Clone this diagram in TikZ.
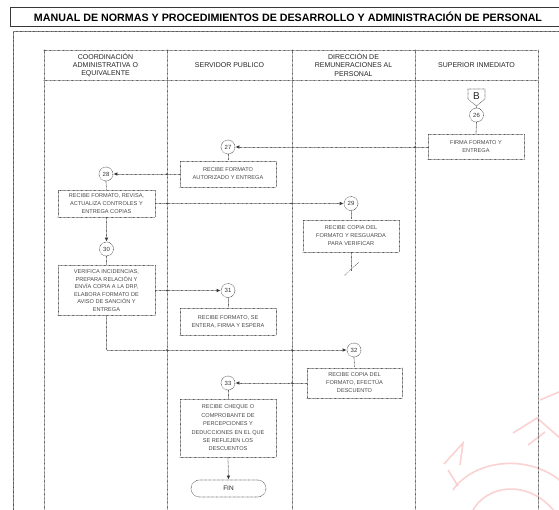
\documentclass[tikz,border=0pt]{standalone}
\usepackage{fontspec}
\setmainfont{Liberation Sans}
\usetikzlibrary{arrows.meta}
\definecolor{ink}{gray}{0.22}
\definecolor{wm}{rgb}{0.98,0.78,0.78}
\begin{document}
\begin{tikzpicture}[x=1pt,y=-1pt,
  dl/.style={draw=ink, line width=0.75pt, line cap=round, dash pattern=on 0.05pt off 1.25pt},
  box/.style={dl, rectangle, inner sep=1pt, align=center, text=black!72,
    font=\fontsize{5.6}{8}\selectfont},
  circ/.style={dl, circle, minimum size=14pt, inner sep=0pt, text=black!80,
    font=\fontsize{6}{6}\selectfont},
  hdr/.style={align=center, text=black!85, font=\fontsize{7}{8.2}\selectfont},
  conn/.style={dl},
  arr/.style={dl, -{Latex[length=4pt,width=3.6pt]}},
  jdot/.style={fill=ink, draw=none, circle, inner sep=0pt, minimum size=1.8pt},
]
\useasboundingbox (0,0) rectangle (559,510);
\clip (0,0) rectangle (559,510);
\fill[white] (0,0) rectangle (559,510);

% watermark (faint)
\begin{scope}[draw=wm, line width=1.6pt, opacity=0.8]
  \draw (453,490) .. controls (475,458) and (535,452) .. (568,488);
  \draw (472,512) .. controls (485,485) and (528,478) .. (555,512);
  \draw (444,464) -- (463,443) -- (460,465);
  \draw (448,470) -- (458,486);
  \draw (513,433) -- (537,418) -- (560,438);
  \draw (528,445) -- (545,432);
  \draw (540,400) -- (559,392);
\end{scope}

% title box and frame
\draw[draw=ink, line width=0.9pt] (10,7) rectangle (570,26);
\node (title) at (288,17) {\bfseries\fontsize{10.7}{12}\selectfont MANUAL DE NORMAS Y PROCEDIMIENTOS DE DESARROLLO Y ADMINISTRACIÓN DE PERSONAL};
\draw[dl, line width=1pt] (13,520) -- (13,32) -- (570,32);

% swimlanes
\draw[dl] (44,50) rectangle (538,520);
\draw[dl] (44,80) -- (538,80);
\draw[dl] (167,50) -- (167,520);
\draw[dl] (292,50) -- (292,520);
\draw[dl] (415,50) -- (415,520);
\node[hdr] (h1) at (105.5,65) {COORDINACIÓN\\ADMINISTRATIVA O\\EQUIVALENTE};
\node[hdr] (h2) at (229.5,65) {SERVIDOR PUBLICO};
\node[hdr] (h3) at (353.5,65) {DIRECCIÓN DE\\REMUNERACIONES AL\\PERSONAL};
\node[hdr] (h4) at (476.5,65) {SUPERIOR INMEDIATO};

% off-page connector B
\draw[dl] (468,89) -- (485,89) -- (485,99) -- (476.5,106) -- (468,99) -- cycle;
\node[font=\fontsize{10}{10}\selectfont, text=black!85] (B) at (476.5,96) {B};
\coordinate (Bpt) at (476.5,106);

% nodes
\node[circ] (c26) at (476.5,115) {26};
\node[box, minimum width=96pt, minimum height=25pt] (b26) at (476,147) {FIRMA FORMATO Y\\ENTREGA};
\node[circ] (c27) at (228,147) {27};
\node[box, minimum width=96pt, minimum height=26pt] (b27) at (228,174) {RECIBE FORMATO\\AUTORIZADO Y ENTREGA};
\node[circ] (c28) at (106,174) {28};
\node[box, minimum width=97pt, minimum height=27pt] (b28) at (106.5,203.5) {RECIBE FORMATO, REVISA,\\ACTUALIZA CONTROLES Y\\ENTREGA COPIAS};
\node[circ] (c29) at (351,203.5) {29};
\node[box, minimum width=96pt, minimum height=32pt] (b29) at (351,236) {RECIBE COPIA DEL\\FORMATO Y RESGUARDA\\PARA VERIFICAR};
\coordinate (e29) at (351,271);
\coordinate (s1) at (345,275);
\coordinate (s2) at (359,262);
\node[circ] (c30) at (106.5,249) {30};
\node[box, minimum width=97pt, minimum height=50pt, font=\fontsize{5.6}{7.5}\selectfont] (b30) at (106.5,290.5) {VERIFICA INCIDENCIAS,\\PREPARA RELACIÓN Y\\ENVÍA COPIA A LA DRP,\\ELABORA FORMATO DE\\AVISO DE SANCIÓN Y\\ENTREGA};
\node[circ] (c31) at (228,290.5) {31};
\node[box, minimum width=96pt, minimum height=27pt] (b31) at (228,321.5) {RECIBE FORMATO, SE\\ENTERA, FIRMA Y ESPERA};
\node[circ] (c32) at (354,350) {32};
\node[box, minimum width=95pt, minimum height=30pt] (b32) at (354.5,383) {RECIBE COPIA DEL\\FORMATO, EFECTÚA\\DESCUENTO};
\node[circ] (c33) at (228,383) {33};
\node[box, minimum width=96pt, minimum height=58pt, font=\fontsize{5.6}{8.4}\selectfont] (b33) at (228,428) {RECIBE CHEQUE O\\COMPROBANTE DE\\PERCEPCIONES Y\\DEDUCCIONES EN EL QUE\\SE REFLEJEN LOS\\DESCUENTOS};
\node[dl, rectangle, rounded corners=8.5pt, minimum width=75pt, minimum height=17pt, inner sep=0pt, font=\fontsize{6.5}{7}\selectfont, text=black!85] (fin) at (228.5,488.5) {FIN};

% connectors
\draw[conn] (Bpt) -- (c26.north);
\draw[conn] (c26.south) -- (b26.north);
\draw[arr] (b26.west) -- (c27.east);
\draw[conn] (c27.south) -- (b27.north);
\draw[arr] (b27.west) -- (c28.east);
\draw[conn] (c28.south) -- (b28.north);
\draw[arr] (b28.east) -- (c29.west);
\draw[conn] (c29.south) -- (b29.north);
\draw[conn] (b29.south) -- (e29);
\draw[conn] (s1) -- (s2);
\draw[arr] (b28.south) -- (c30.north);
\draw[conn] (c30.south) -- (b30.north);
\draw[arr] (b30.east) -- (c31.west);
\draw[conn] (c31.south) -- (b31.north);
\draw[arr] (b30.south) |- (c32.west);
\draw[conn] (c32.south) -- (b32.north);
\draw[arr] (b32.west) -- (c33.east);
\draw[conn] (c33.south) -- (b33.north);
\draw[arr] (b33.south) -- (fin.north);

% junction dots where connectors cross lane lines
\node[jdot] (j1) at (415,147) {};
\node[jdot] (j2) at (167,174) {};
\node[jdot] (j3) at (167,203.5) {};
\node[jdot] (j4) at (292,203.5) {};
\node[jdot] (j5) at (167,290.5) {};
\node[jdot] (j6) at (167,350) {};
\node[jdot] (j7) at (292,350) {};
\node[jdot] (j8) at (292,383) {};
\end{tikzpicture}
\end{document}
